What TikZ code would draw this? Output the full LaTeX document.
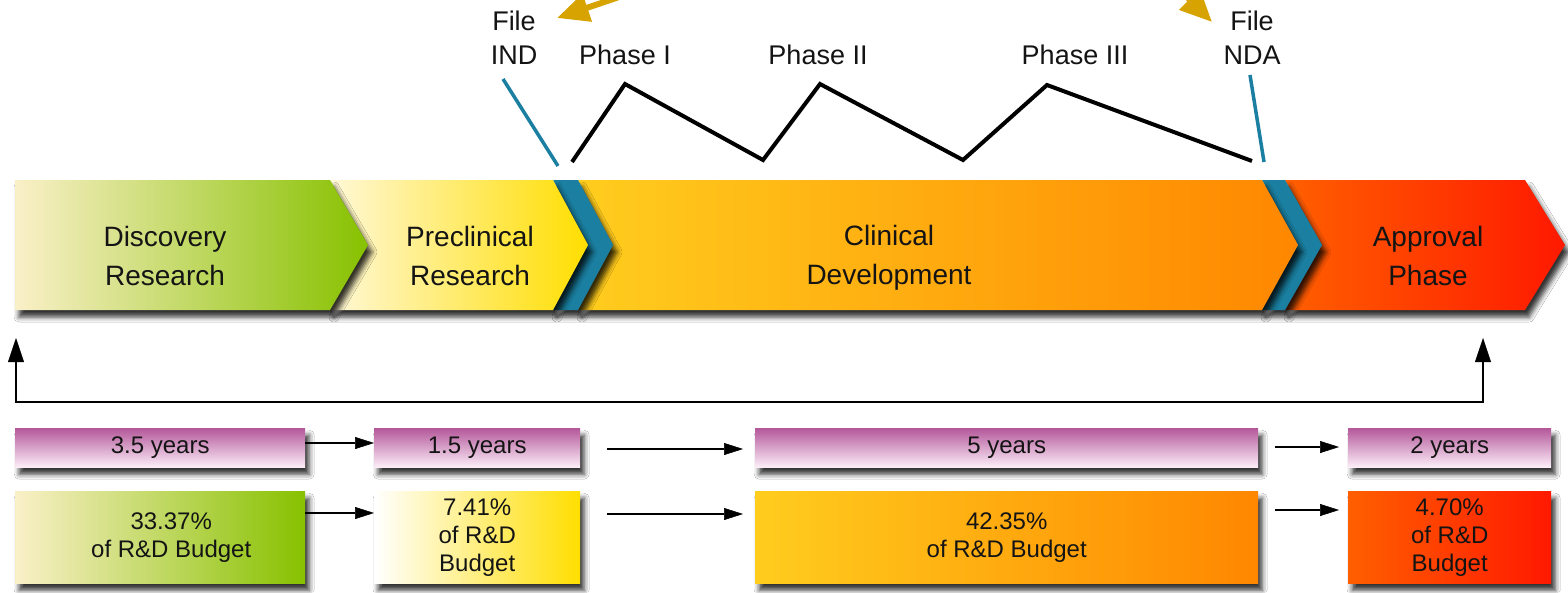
\documentclass[tikz,border=0pt]{standalone}
\usepackage{fontspec}
\setmainfont{Liberation Sans}
\usetikzlibrary{shadows.blur,arrows.meta}
\definecolor{tealb}{RGB}{26,127,160}
\definecolor{goldc}{RGB}{215,163,0}
\definecolor{txt}{RGB}{20,20,20}
\definecolor{cream}{RGB}{250,240,200}
\definecolor{lime}{RGB}{200,218,50}
\definecolor{grn}{RGB}{135,193,0}
\definecolor{pcream}{RGB}{255,248,215}
\definecolor{ylw}{RGB}{255,222,0}
\definecolor{ylwm}{RGB}{255,230,70}
\definecolor{orl}{RGB}{255,205,30}
\definecolor{orm}{RGB}{255,185,0}
\definecolor{orr}{RGB}{255,135,0}
\definecolor{redl}{RGB}{255,95,0}
\definecolor{redr}{RGB}{255,25,0}
\definecolor{pkt}{RGB}{180,88,155}
\definecolor{pkm}{RGB}{225,165,210}
\definecolor{pkb}{RGB}{252,238,248}
\begin{document}
\begin{tikzpicture}[x=1pt,y=-1pt,
  shad/.style={blur shadow={shadow xshift=4pt,shadow yshift=-7pt,shadow blur radius=5pt,shadow opacity=80}},
  bigl/.style={font=\fontsize{28}{39}\selectfont,align=center,text=txt},
  topl/.style={font=\fontsize{27}{34}\selectfont,align=center,text=txt},
  yearbox/.style={shad,anchor=north west,inner sep=0pt,minimum height=39pt,top color=pkt,middle color=pkm,bottom color=pkb,font=\fontsize{24}{27}\selectfont,text=txt},
  budbox/.style={shad,anchor=north west,inner sep=0pt,minimum height=92pt,align=center,font=\fontsize{24}{28}\selectfont,text=txt},
  arr/.style={draw=black,line width=2pt,-{Triangle[length=19pt,width=12pt,fill=black,line width=0.5pt]}},
  brk/.style={draw=black,line width=2pt,{Triangle[length=24pt,width=16pt,fill=black,line width=0.5pt]}-{Triangle[length=24pt,width=16pt,fill=black,line width=0.5pt]}},
  garr/.style={goldc,line width=6pt,-{Triangle[length=32pt,width=28pt]}},
  tline/.style={tealb,line width=3.5pt},
  zig/.style={black,line width=4pt,line join=miter}
]
\clip (0,0) rectangle (1568,592);
\fill[white] (0,0) rectangle (1568,592);

% main band, drawn right to left
\path[shad,left color=redl,right color=redr] (1285,180) -- (1525,180) -- (1565,245) -- (1525,310) -- (1285,310) -- (1322,245) -- cycle;
\path[shad,fill=tealb] (1262,180) -- (1285,180) -- (1322,245) -- (1285,310) -- (1262,310) -- (1298,245) -- cycle;
\path[shad,left color=orl,middle color=orm,right color=orr] (578,180) -- (1262,180) -- (1298,245) -- (1262,310) -- (578,310) -- (613,245) -- cycle;
\path[shad,fill=tealb] (553,180) -- (578,180) -- (613,245) -- (578,310) -- (553,310) -- (588,245) -- cycle;
\path[shad,left color=pcream,middle color=ylwm,right color=ylw] (330,180) -- (553,180) -- (588,245) -- (553,310) -- (330,310) -- (368,245) -- cycle;
\path[shad,left color=cream,middle color=lime,right color=grn] (15,180) -- (330,180) -- (368,245) -- (330,310) -- (15,310) -- cycle;

\node[bigl] (disc) at (165,256) {Discovery\\Research};
\node[bigl] (prec) at (470,256) {Preclinical\\Research};
\node[bigl] (clin) at (889,258) {Clinical\\Development};
\node[bigl] (appr) at (1428,256) {Approval\\Phase};

% top labels
\node[topl] (ind) at (514,38) {File\\IND};
\node[topl] (ph1) at (625,55) {Phase I};
\node[topl] (ph2) at (818,55) {Phase II};
\node[topl] (ph3) at (1075,55) {Phase III};
\node[topl] (nda) at (1252,38) {File\\NDA};

\coordinate (i1) at (503,79);
\coordinate (i2) at (558,166);
\draw[tline] (i1) -- (i2);
\coordinate (n1) at (1250,75);
\coordinate (n2) at (1264,162);
\draw[tline] (n1) -- (n2);

\coordinate (z0) at (572,162);
\coordinate (z1) at (625,84);
\coordinate (z2) at (763,160);
\coordinate (z3) at (820,84);
\coordinate (z4) at (963,160);
\coordinate (z5) at (1047,85);
\coordinate (z6) at (1252,161);
\draw[zig] (z0) -- (z1) -- (z2) -- (z3) -- (z4) -- (z5) -- (z6);

\coordinate (g1) at (675,-22);
\coordinate (gt1) at (557,18);
\coordinate (g2) at (1170,-20);
\coordinate (gt2) at (1212,22);
\draw[garr] (g1) -- (gt1);
\draw[garr] (g2) -- (gt2);

% bracket
\coordinate (bl) at (16,338);
\coordinate (br) at (1483,338);
\draw[brk] (bl) |- (1483,402) -- (br);

% bottom boxes
\node[yearbox,minimum width=290pt] (y1) at (15,428) {3.5 years};
\node[yearbox,minimum width=206pt] (y2) at (374,428) {1.5 years};
\node[yearbox,minimum width=503pt] (y3) at (755,428) {5 years};
\node[yearbox,minimum width=203pt] (y4) at (1348,428) {2 years};

\node[budbox,minimum width=290pt,left color=cream,middle color=lime,right color=grn] (b1) at (15,491) {\hspace*{22pt}33.37\%\\\hspace*{22pt}of R\&D Budget};
\node[budbox,minimum width=206pt,left color=white,middle color=ylwm,right color=ylw] (b2) at (374,491) {7.41\%\\of R\&D\\Budget};
\node[budbox,minimum width=503pt,left color=orl,middle color=orm,right color=orr] (b3) at (755,491) {42.35\%\\of R\&D Budget};
\node[budbox,minimum width=203pt,left color=redl,right color=redr] (b4) at (1348,491) {4.70\%\\of R\&D\\Budget};

\coordinate (m1) at (607,449);
\coordinate (m2) at (607,514);
\coordinate (r1) at (1275,447);
\coordinate (r2) at (1275,510);

\draw[arr] ([yshift=-15pt]y1.north east) -- ([yshift=-15pt]y2.north west);
\draw[arr] ([yshift=-22pt]b1.north east) -- ([yshift=-22pt]b2.north west);
\draw[arr,shorten >=12pt] (m1) -- (m1 -| y3.west);
\draw[arr,shorten >=12pt] (m2) -- (m2 -| b3.west);
\draw[arr,shorten >=9pt] (r1) -- (r1 -| y4.west);
\draw[arr,shorten >=9pt] (r2) -- (r2 -| b4.west);
\end{tikzpicture}
\end{document}
